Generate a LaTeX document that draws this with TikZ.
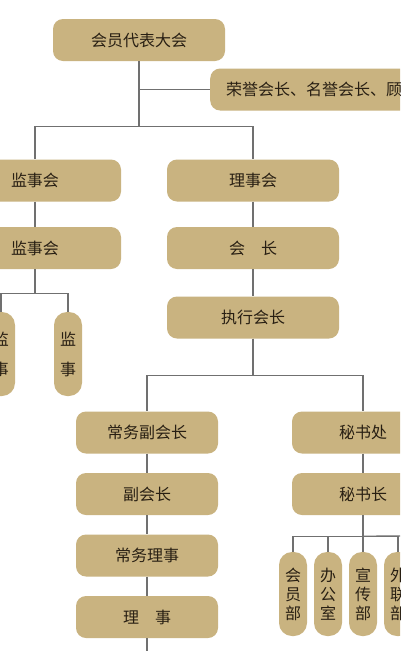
\documentclass[tikz,border=0pt]{standalone}
\usepackage{fontspec}
\setmainfont{Noto Sans CJK SC}
\usepackage{tikz}
\usetikzlibrary{positioning,calc}
\definecolor{boxtan}{RGB}{201,179,128}
\definecolor{boxtext}{RGB}{40,31,19}
\definecolor{linegray}{RGB}{112,112,112}

\begin{document}
\begin{tikzpicture}[x=1pt,y=1pt]
				\clip (0,0) rectangle (400,-651);
				\fill[white] (0,0) rectangle (400,-651);

				\tikzstyle{orgbox}=[fill=boxtan,text=boxtext,rounded corners=10pt,minimum width=172pt,minimum height=42pt,font=\fontsize{16}{19}\selectfont,inner sep=0pt]
				\tikzstyle{orgboxs}=[orgbox,minimum width=142pt,minimum height=42pt]
				\tikzstyle{orgvbox}=[fill=boxtan,text=boxtext,rounded corners=13pt,minimum width=28pt,minimum height=84pt,align=center,inner sep=0pt,font=\fontsize{16}{19}\selectfont]
				\tikzstyle{l} = [linegray,draw,line width=1.3pt]
				%% top level
				\node [orgbox] (dh) at (139,-40) {会员代表大会};
				\node [orgbox,anchor=west,inner xsep=16pt] (ry) at (210,-89.5) {荣誉会长、名誉会长、顾问};
				\node [orgbox] (js1) at (35,-180.5) {监事会};
				\node [orgbox] (ls) at (253,-180.5) {理事会};
				\node [orgbox] (js2) at (35,-248) {监事会};
				\node [orgbox] (hz) at (253,-248) {会\hspace{1em}长};
				\node [orgbox] (zx) at (253,-317.5) {执行会长};
				%% supervisors
				\node [orgvbox,font=\fontsize{16}{30}\selectfont] (jsa) at (1,-354) {监\\事};
				\node [orgvbox,font=\fontsize{16}{30}\selectfont] (jsb) at (68,-354) {监\\事};
				%% left column
				\node [orgboxs] (cf) at (147,-432.5) {常务副会长};
				\node [orgboxs] (fh) at (147,-494) {副会长};
				\node [orgboxs] (cl) at (147,-555.5) {常务理事};
				\node [orgboxs] (ll) at (147,-617) {理\hspace{1em}事};
				\coordinate (bot) at (147,-660);
				%% right column
				\node [orgboxs] (ms) at (363,-432.5) {秘书处};
				\node [orgboxs] (msz) at (363,-494) {秘书长};
				\node [orgvbox] (bm1) at (293,-594) {会\\员\\部};
				\node [orgvbox] (bm2) at (328,-594) {办\\公\\室};
				\node [orgvbox] (bm3) at (363,-594) {宣\\传\\部};
				\node [orgvbox] (bm4) at (398,-594) {外\\联\\部};
				\coordinate (bmr) at (410,-536);

				\draw [l] (dh.south) -- ++(0,-65) -| (js1.north);
				\draw [l] (dh.south) -- ++(0,-65) -| (ls.north);
				\draw [l] (dh.south |- ry.west) -- (ry.west);
				\draw [l] (js1.south) -- (js2.north);
				\draw [l] (ls.south) -- (hz.north);
				\draw [l] (hz.south) -- (zx.north);

				\draw [l] (js2.south) -- ++(0,-24) -| (jsa.north);
				\draw [l] (js2.south) -- ++(0,-24) -| (jsb.north);

				\draw [l] (zx.south) -- ++(0,-37) -| (cf.north);
				\draw [l] (zx.south) -- ++(0,-37) -| (ms.north);

				\draw [l] (cf.south) -- (fh.north);
				\draw [l] (fh.south) -- (cl.north);
				\draw [l] (cl.south) -- (ll.north);
				\draw [l] (ll.south) -- (bot);

				\draw [l] (ms.south) -- (msz.north);
				\foreach \b in {bm1,bm2,bm3,bm4}
				    \draw [l] (msz.south) -- ++(0,-21) -| (\b.north);
				\draw [l] (msz.south) -- ++(0,-21) -- (bmr);
\end{tikzpicture}
\end{document}
